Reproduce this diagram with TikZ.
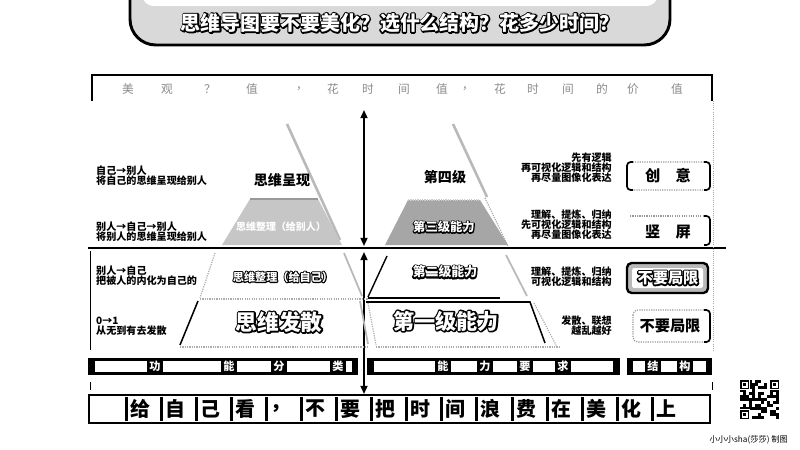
\documentclass[tikz,border=0pt]{standalone}
\usepackage{fontspec}
\setmainfont{Noto Sans CJK SC}
\usetikzlibrary{arrows.meta}
% white text with a black outline: a stroked copy underneath, white text on top
\newcommand{\olt}[2][1.8]{\rlap{\special{pdf:literal direct q 1 Tr #1 w 1 j 0 0 0 RG}#2\special{pdf:literal direct Q}}{\color{white}#2}}
\newcommand{\fs}[1]{\fontsize{#1}{#1}\selectfont}
\begin{document}
\begin{tikzpicture}[x=0.03cm,y=-0.03cm,
  lbl/.style={font=\bfseries\fs{8.6}, align=left, inner sep=0pt, anchor=west},
  rlbl/.style={font=\bfseries\fs{8.6}, align=right, inner sep=0pt, anchor=east},
  shade/.style={gray!55, line width=2.2pt},
  dotl/.style={gray!65, densely dotted, line width=1pt},
  solid1/.style={black, line width=1.3pt},
  dblarrow/.style={line width=1.5pt, {Triangle[length=7pt,width=6pt]}-{Triangle[length=7pt,width=6pt]}},
  hdrtxt/.style={text=white, font=\bfseries\fs{9.5}, inner sep=0pt},
  bigtxt/.style={font=\bfseries\fs{17}, inner sep=0pt},
  boxtxt/.style={font=\bfseries\fs{13}, inner sep=0pt},
  toptxt/.style={text=black!45, font=\fs{10}, inner sep=0pt}]
\useasboundingbox (0,0) rectangle (800,450);
\fill[white] (0,0) rectangle (800,450);

% ---------- header ----------
\draw[line width=2.5pt, fill=gray!30, rounded corners=22] (130,-40) rectangle (670,45);
\fill[white, rounded corners=10] (142,-40) rectangle (658,6);
\node[inner sep=0pt] (title) at (400,23) {\bfseries\fs{17}\olt[2.4]{思维导图要不要美化？选什么结构？花多少时间？}};

% ---------- top text row ----------
\draw[line width=1pt] (92,101) -- (92,75) -- (712,75) -- (712,101);
\foreach \c/\x [count=\i] in {美/128, 观/167, ？/210, 值/252, ，/302, 花/333, 时/368, 间/404, 值/442, ，/468, 花/500, 时/533, 间/568, 的/602, 价/633, 值/677}
  \node[toptxt] (t\i) at (\x,89) {\c};

% ---------- frame lines ----------
\draw[line width=2.5pt] (88,248) -- (726,248);
\draw[line width=0.8pt] (90,251) -- (90,350);
\draw[gray!70, densely dotted, line width=0.8pt] (713,101) -- (713,350);
\draw[line width=0.8pt] (90,382) -- (90,390);
\draw[line width=0.8pt] (712,382) -- (712,390);

% ---------- arrows ----------
\coordinate (a1t) at (364,110);
\coordinate (a1b) at (364,246);
\coordinate (a2t) at (364,252);
\coordinate (a2b) at (364,394);
\draw[dblarrow] (a1t) -- (a1b);
\draw[dblarrow] (a2t) -- (a2b);

% ---------- left pyramid ----------
\draw[shade] (287,124) -- (340,240);
\node[font=\bfseries\fs{12}, inner sep=0pt] (lp4) at (282,180) {思维呈现};
\fill[gray!45] (250,199) -- (318,199) -- (342,245) -- (222,245) -- cycle;
\draw[gray!80, line width=1pt] (250,199) -- (318,199);
\node[text=white, font=\bfseries\fs{8.5}, inner sep=0pt] (lp3) at (281,227) {思维整理（给别人）};
\draw[dotl] (215,253) -- (200,298);
\draw[shade, line width=1.5pt] (344,253) -- (362,296);
\draw[dotl] (200,299) -- (368,299);
\node[font=\bfseries\fs{9.5}, inner sep=0pt] (lp2) at (283,277) {\olt[1.8]{思维整理（给自己）}};
\draw[solid1] (198,301) -- (180,345);
\draw[dotl] (180,347) -- (368,347);
\draw[shade, line width=1.5pt] (360,301) -- (368,344);
\node[font=\bfseries\fs{18.5}, inner sep=0pt] (lp1) at (279,322) {\olt[2.6]{思维发散}};

% ---------- right pyramid ----------
\draw[shade] (453,124) -- (487,197);
\draw[dotl] (485,198) -- (508,246);
\node[font=\bfseries\fs{12}, inner sep=0pt] (rp4) at (445,177) {第四级};
\fill[gray!70] (408,200) -- (480,200) -- (508,245) -- (385,245) -- cycle;
\draw[gray!40, densely dotted, line width=1pt] (408,200) -- (480,200);
\node[font=\bfseries\fs{10.5}, inner sep=0pt] (rp3) at (444,227) {\olt[1.8]{第三级能力}};
\draw[line width=1.2pt] (387,256) -- (368,297);
\draw[shade, line width=1.5pt] (506,255) -- (527,296);
\draw[solid1] (368,298) -- (500,298);
\node[font=\bfseries\fs{11}, inner sep=0pt] (rp2) at (445,272) {\olt[2.4]{第二级能力}};
\draw[solid1] (366,302) -- (530,302) -- (545,343);
\draw[dotl] (534,303) -- (557,347);
\draw[dotl] (368,303) -- (376,345);
\draw[dotl] (376,347) -- (560,347);
\node[font=\bfseries\fs{18}, inner sep=0pt] (rp1) at (446,321) {\olt[2.6]{第一级能力}};

% ---------- left texts ----------
\node[lbl] (l4) at (96,176) {自己→别人\\将自己的思维呈现给别人};
\node[lbl] (l3) at (96,232) {别人→自己→别人\\将别人的思维呈现给别人};
\node[lbl] (l2) at (96,276) {别人→自己\\把被人的内化为自己的};
\node[lbl] (l1) at (96,326) {0→1\\从无到有去发散};

% ---------- right texts ----------
\node[rlbl] (r4) at (612,168) {先有逻辑\\再可视化逻辑和结构\\再尽量图像化表达};
\node[rlbl] (r3) at (612,225) {理解、提炼、归纳\\先可视化逻辑和结构\\再尽量图像化表达};
\node[rlbl] (r2) at (612,277) {理解、提炼、归纳\\可视化逻辑和结构};
\node[rlbl] (r1) at (612,326) {发散、联想\\越乱越好};

% ---------- structure boxes ----------
\draw[gray!80, densely dotted, line width=1pt, rounded corners=4] (627,162) rectangle (710,190);
\draw[line width=1.4pt, rounded corners=3] (633,162) -- (627,162) -- (627,190) -- (633,190);
\draw[line width=1.4pt, rounded corners=3] (704,162) -- (710,162) -- (710,190) -- (704,190);
\node[boxtxt] (b4) at (668,176) {创\quad 意};

\draw[gray!80, densely dotted, line width=1pt] (630,216) -- (704,216);
\draw[line width=1.4pt, rounded corners=3] (704,216) -- (710,216) -- (710,245) -- (704,245);
\node[boxtxt] (b3) at (668,232) {竖\quad 屏};

\draw[line width=2pt, rounded corners=4, fill=gray!55] (627,263) rectangle (708,293);
\fill[white, rounded corners=2] (632,268) rectangle (703,288);
\node[font=\bfseries\fs{13}, inner sep=0pt] (b2) at (668,278) {\olt[2.4]{不要局限}};

\draw[gray!80, densely dotted, line width=1pt, rounded corners=4] (633,310) rectangle (710,342);
\draw[line width=1.4pt, rounded corners=3] (704,310) -- (710,310) -- (710,342) -- (704,342);
\node[boxtxt] (b1) at (670,326) {不要局限};

% ---------- category bars ----------
\fill[black] (88,358) rectangle (358,375);
\foreach \a/\b in {95/147, 163/221, 237/271, 287/330, 346/352}
  \fill[white] (\a,361) rectangle (\b,372);
\foreach \c/\x [count=\i] in {功/155, 能/229, 分/279, 类/338}
  \node[hdrtxt] (h1\i) at (\x,366.5) {\c};

\fill[black] (367,358) rectangle (620,375);
\foreach \a/\b in {374/435, 451/477, 493/517, 533/555, 571/613}
  \fill[white] (\a,361) rectangle (\b,372);
\foreach \c/\x [count=\i] in {能/443, 力/485, 要/525, 求/563}
  \node[hdrtxt] (h2\i) at (\x,366.5) {\c};

\fill[black] (627,358) rectangle (712,375);
\foreach \a/\b in {633/645, 661/677, 693/706}
  \fill[white] (\a,361) rectangle (\b,372);
\foreach \c/\x [count=\i] in {结/653, 构/685}
  \node[hdrtxt] (h3\i) at (\x,366.5) {\c};

% ---------- bottom slogan ----------
\draw[line width=2.5pt, fill=white] (89,395) rectangle (710,423);
\foreach \c/\x [count=\i] in {给/140, 自/175, 己/210, 看/245, ，/280, 不/315, 要/350, 把/385, 时/420, 间/455, 浪/490, 费/526, 在/561, 美/596, 化/631, 上/666}{
  \fill[black] (\x-15,397) rectangle (\x-12,421);
  \node[bigtxt] (s\i) at (\x,409) {\c};
}

% ---------- QR code ----------
\pgfmathsetseed{12}
\foreach \i in {0,...,12}{
  \foreach \j in {0,...,12}{
    \pgfmathparse{rnd>0.5?1:0}
    \ifnum\pgfmathresult=1 \fill (740+\i*3,380+\j*3) rectangle ++(3,3); \fi
  }
}
\foreach \qx/\qy in {740/380, 770/380, 740/410}{
  \fill[white] (\qx-1,\qy-1) rectangle ++(11,11);
  \fill (\qx,\qy) rectangle ++(9,9);
  \fill[white] (\qx+1.5,\qy+1.5) rectangle ++(6,6);
  \fill (\qx+3,\qy+3) rectangle ++(3,3);
}
\node[font=\fs{7}, inner sep=0pt, anchor=east] (credit) at (788,440) {小小小sha(莎莎) 制图};
\end{tikzpicture}
\end{document}
